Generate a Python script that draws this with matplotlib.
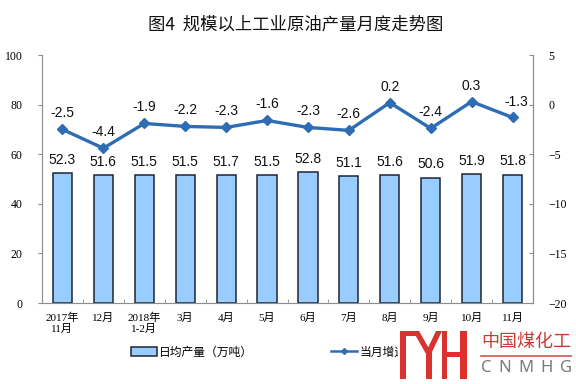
import matplotlib
matplotlib.use("Agg")
import matplotlib.pyplot as plt
import numpy as np
from matplotlib.patches import Rectangle, Polygon
from matplotlib.lines import Line2D

# data
months = ['2017年\n11月', '12月', '2018年\n1-2月', '3月', '4月', '5月',
          '6月', '7月', '8月', '9月', '10月', '11月']
daily_output = [52.3, 51.6, 51.5, 51.5, 51.7, 51.5, 52.8, 51.1, 51.6, 50.6, 51.9, 51.8]
growth = [-2.5, -4.4, -1.9, -2.2, -2.3, -1.6, -2.3, -2.6, 0.2, -2.4, 0.3, -1.3]
left_ticks = [0, 20, 40, 60, 80, 100]
right_ticks = [-20, -15, -10, -5, 0, 5]

title = '图4  规模以上工业原油产量月度走势图'
bar_label = '日均产量（万吨）'
line_label = '当月增速（%）'

serif = ['Liberation Serif', 'Noto Sans CJK SC']
sans = ['Liberation Sans', 'Noto Sans CJK SC']
cjk = ['Noto Sans CJK SC', 'DejaVu Sans']

bar_color = '#99CCFF'
bar_edge = '#1C2633'
line_color = '#2E6DB4'
spine_color = '#8C8C8C'
red = '#DC322F'

W, H = 576, 384
fig = plt.figure(figsize=(W / 100, H / 100), dpi=100)


def px(x, y):
    # pixel position (top-left origin) -> figure fraction
    return (x / W, 1 - y / H)


ax = fig.add_axes([42 / W, 1 - 303 / H, (533 - 42) / W, (303 - 55) / H])
ax2 = ax.twinx()

x = np.arange(len(months))
ax.bar(x, daily_output, width=0.47, color=bar_color, edgecolor=bar_edge, linewidth=1.1, zorder=2)
for i, v in enumerate(daily_output):
    ax.annotate(f'{v:.1f}', (i, v), xytext=(0, 9.5), textcoords='offset points',
                ha='center', va='center', fontsize=10, family=sans, color='#111111')

ax2.plot(x, growth, color=line_color, linewidth=2.4, marker='D', markersize=5.5,
         markerfacecolor=line_color, markeredgecolor=line_color)
for i, v in enumerate(growth):
    dx = 3 if i == len(growth) - 1 else 0
    ax2.annotate(f'{v:.1f}', (i, v), xytext=(dx, 11.5), textcoords='offset points',
                 ha='center', va='center', fontsize=10, family=sans, color='#111111')

ax.set_xlim(-0.5, len(months) - 0.5)
ax.set_ylim(0, 100)
ax2.set_ylim(-20, 5)
ax.set_yticks(left_ticks)
ax2.set_yticks(right_ticks)
ax.set_xticks(x)
ax.set_xticklabels(months, family=serif, fontsize=8, linespacing=1.15)
ax.set_xticks(np.arange(len(months) + 1) - 0.5, minor=True)
ax.tick_params(axis='x', which='major', length=0, pad=7)
ax.tick_params(axis='x', which='minor', length=3, color=spine_color, direction='in')
ax.tick_params(axis='y', length=3, color=spine_color, direction='out', pad=11,
               labelsize=8.5, labelfontfamily='Liberation Serif')
ax2.tick_params(axis='y', length=3, color=spine_color, direction='in', pad=11,
                labelsize=8.5, labelfontfamily='Liberation Serif')

for a in (ax, ax2):
    a.spines['top'].set_visible(False)
    for s in ('left', 'right', 'bottom'):
        a.spines[s].set_color(spine_color)
        a.spines[s].set_linewidth(0.8)
ax2.spines['left'].set_visible(False)
ax2.spines['bottom'].set_visible(False)

fig.text(296 / W, 1 - 25 / H, title, ha='center', va='center', fontsize=12.5,
         family=cjk, fontweight='medium', color='#111111')

handles = [Rectangle((0, 0), 1, 1, facecolor=bar_color, edgecolor=bar_edge, linewidth=1.1),
           Line2D([], [], color=line_color, linewidth=1.8, marker='D', markersize=3)]
leg = fig.legend(handles, [bar_label, line_label], loc='center left',
                 bbox_to_anchor=px(125, 352), ncol=2, frameon=False, borderpad=0,
                 handlelength=2.2, handletextpad=0.2, columnspacing=6.6, numpoints=1,
                 prop={'family': cjk, 'size': 8.5})

# watermark logo in the lower right corner
fig.add_artist(Rectangle(px(398, 384), 178 / W, 60 / H, transform=fig.transFigure,
                         facecolor='white', edgecolor='none', zorder=10))
strokes = [
    [(400, 331), (405.5, 331), (405.5, 379), (400, 379)],
    [(400, 331), (417, 331), (417, 336), (400, 336)],
    [(413, 331), (419, 331), (431.5, 353), (425.5, 353)],
    [(436, 331), (442, 331), (431.5, 353), (425.5, 353)],
    [(425.5, 351), (431.5, 351), (431.5, 379), (425.5, 379)],
    [(441.5, 331), (447, 331), (447, 379), (441.5, 379)],
    [(447, 351.5), (460, 351.5), (460, 357), (447, 357)],
    [(460, 331), (466.5, 331), (466.5, 379), (460, 379)],
]
for pts in strokes:
    fig.add_artist(Polygon([px(a, b) for a, b in pts], closed=True, transform=fig.transFigure,
                           facecolor=red, edgecolor='none', zorder=11))
fig.text(*px(526, 342), '中国煤化工', ha='center', va='center', fontsize=13,
         family=cjk, color='#C83A36', zorder=12)
fig.add_artist(Line2D([481 / W, 571 / W], [1 - 356 / H, 1 - 356 / H], transform=fig.transFigure,
                      color='#D9534F', linewidth=1.2, zorder=12))
for letter, lx in zip('CNMHG', [486, 505, 526, 547, 566]):
    fig.text(*px(lx, 368), letter, ha='center', va='center', fontsize=12,
             family=['Noto Sans', 'DejaVu Sans'], fontweight='light', color='#7A7A7A', zorder=12)

fig.savefig('out.png', dpi=100)
